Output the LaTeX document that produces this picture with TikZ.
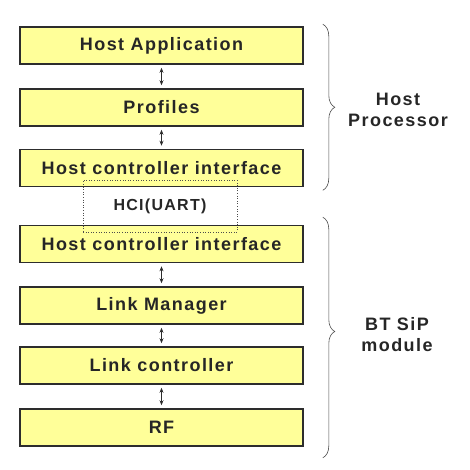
\documentclass[tikz,border=0pt]{standalone}
\usepackage{fontspec}
\setmainfont{Liberation Sans}[LetterSpace=8]
\usepackage{tikz}
\usetikzlibrary{arrows.meta,decorations.pathreplacing}

\definecolor{layeryellow}{RGB}{255,255,153}
\definecolor{edgegray}{RGB}{45,45,45}
\newcommand{\layerfont}{\bfseries\fontsize{18}{21}\selectfont}

\tikzset{
  layer/.style={draw=edgegray, line width=1.6pt, fill=layeryellow,
    minimum width=283pt, minimum height=37pt, inner sep=0pt,
    font=\layerfont, text=black!85},
  link/.style={{Stealth[length=5pt,width=4pt]}-{Stealth[length=5pt,width=4pt]},
    line width=0.7pt, draw=edgegray, shorten >=3pt, shorten <=3pt},
  sidebrace/.style={decorate, draw=black!70, line width=0.6pt},
  sidelabel/.style={align=center, font=\layerfont, text=black!85},
}

\begin{document}
\begin{tikzpicture}[x=1pt,y=-1pt]
  \useasboundingbox (0,0) rectangle (470,469);
  \foreach \name/\y/\txt in {app/45.5/Host Application, prof/107.5/Profiles,
      hhci/168/Host controller interface, mhci/244/Host controller interface,
      lm/305.5/Link Manager, lc/365.5/Link controller, rf/427.5/RF}{
    \node[layer] (\name) at (161.5,\y) {\txt};
  }
  \foreach \a/\b in {app/prof, prof/hhci, mhci/lm, lm/lc, lc/rf}
    \draw[link] (\a) -- (\b);
  % UART link sits over both HCI layers
  \node[draw=black!70, dotted, line width=0.6pt, minimum width=154pt,
    minimum height=52pt, inner sep=0pt, font=\bfseries\fontsize{16}{19}\selectfont,
    text=black!85] (uart) at (160,206) {HCI(UART)};
  \draw[sidebrace, decoration={brace, amplitude=12pt}]
    ([shift={(19,-2)}]app.north east) -- ([shift={(19,3)}]hhci.south east);
  \draw[sidebrace, decoration={brace, amplitude=12pt, aspect=0.475}]
    ([shift={(19,-7.5)}]mhci.north east) -- ([shift={(19,11)}]rf.south east);
  \node[sidelabel] (host) at (398,110) {Host\\Processor};
  \node[sidelabel] (sip) at (397,335) {BT SiP\\module};
\end{tikzpicture}
\end{document}
